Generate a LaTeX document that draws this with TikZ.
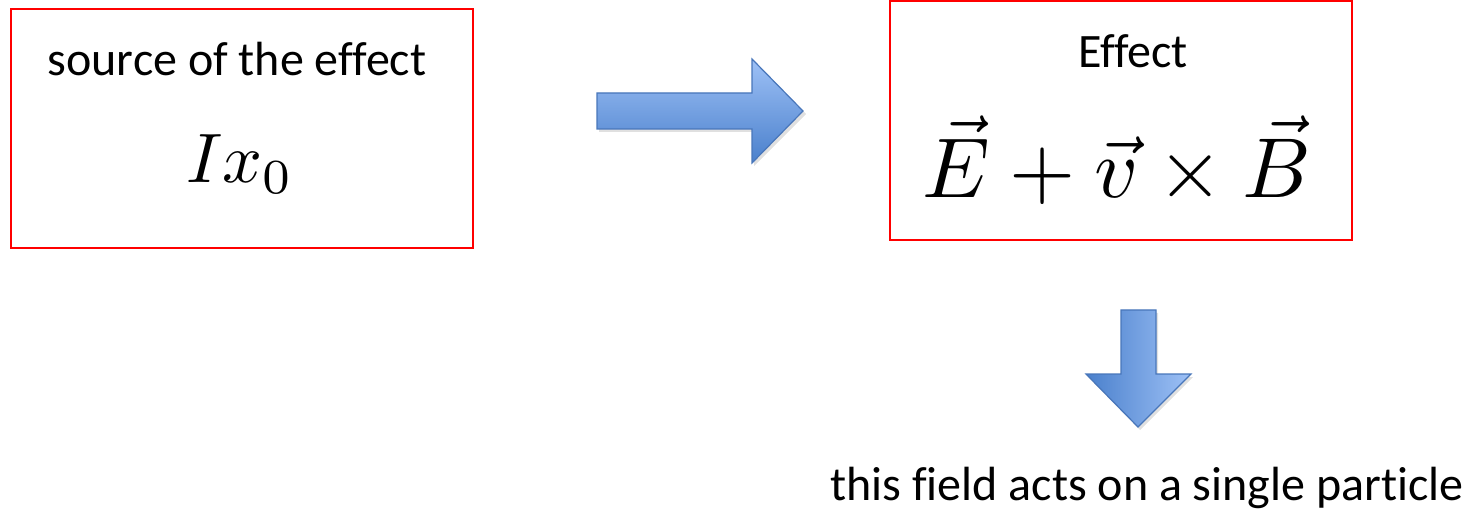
\documentclass[tikz,border=0pt]{standalone}
\usepackage{amsmath}
\usepackage{graphicx}
\usepackage{fontspec}
\setmainfont{Carlito}[Ligatures={NoCommon}]
\usetikzlibrary{positioning, calc}

\definecolor{arrowlight}{RGB}{158,193,246}
\definecolor{arrowdark}{RGB}{74,128,204}
\definecolor{arrowedge}{RGB}{72,118,186}

\tikzset{
  redbox/.style={draw=red, line width=1pt},
  labeltext/.style={font=\fontsize{24}{28}\selectfont, anchor=base, inner sep=0pt},
  mathtext/.style={anchor=base, inner sep=0pt},
  blockarrow/.style={draw=arrowedge, line width=0.6pt, line join=miter},
  arrowshadow/.style={fill=black!12, draw=none}
}

\begin{document}
\begin{tikzpicture}[x=0.5pt, y=-0.5pt]
\useasboundingbox (0,0) rectangle (1478,518);
% boxes
\draw[redbox] (11,9) rectangle (473,248);
\node[inner sep=0pt] (srcbox) at (242,128.5) {};
\draw[redbox] (890,1) rectangle (1352,240);
\node[inner sep=0pt] (effbox) at (1121,120.5) {};
% texts
\node[labeltext] (srclabel) at (237,76) {source of the effect};
\node[mathtext] (srcformula) at (240,183) {\scalebox{3.5}{$Ix_0$}};
\node[labeltext] (efflabel) at (1133,68) {Effect};
\node[mathtext] (effformula) at (1117,198) {\scalebox{4.25}{$\vec{E}+\vec{v}\times\vec{B}$}};
\node[labeltext] (note) at (1147,500) {this field acts on a single particle};
% arrow to the effect
\fill[arrowshadow] (599,96) -- (754,96) -- (754,62) -- (806,114) -- (754,166) -- (754,132) -- (599,132) -- cycle;
\shade[blockarrow, top color=arrowlight, bottom color=arrowdark]
  (597,93) -- (752,93) -- (752,59) -- (803,111) -- (752,163) -- (752,129) -- (597,129) -- cycle;
% arrow to the particle
\fill[arrowshadow] (1123,313) -- (1158,313) -- (1158,377) -- (1193,377) -- (1140,430) -- (1088,377) -- (1123,377) -- cycle;
\shade[blockarrow, left color=arrowdark, right color=arrowlight]
  (1121,310) -- (1156,310) -- (1156,374) -- (1191,374) -- (1138,427) -- (1086,374) -- (1121,374) -- cycle;
\end{tikzpicture}
\end{document}
